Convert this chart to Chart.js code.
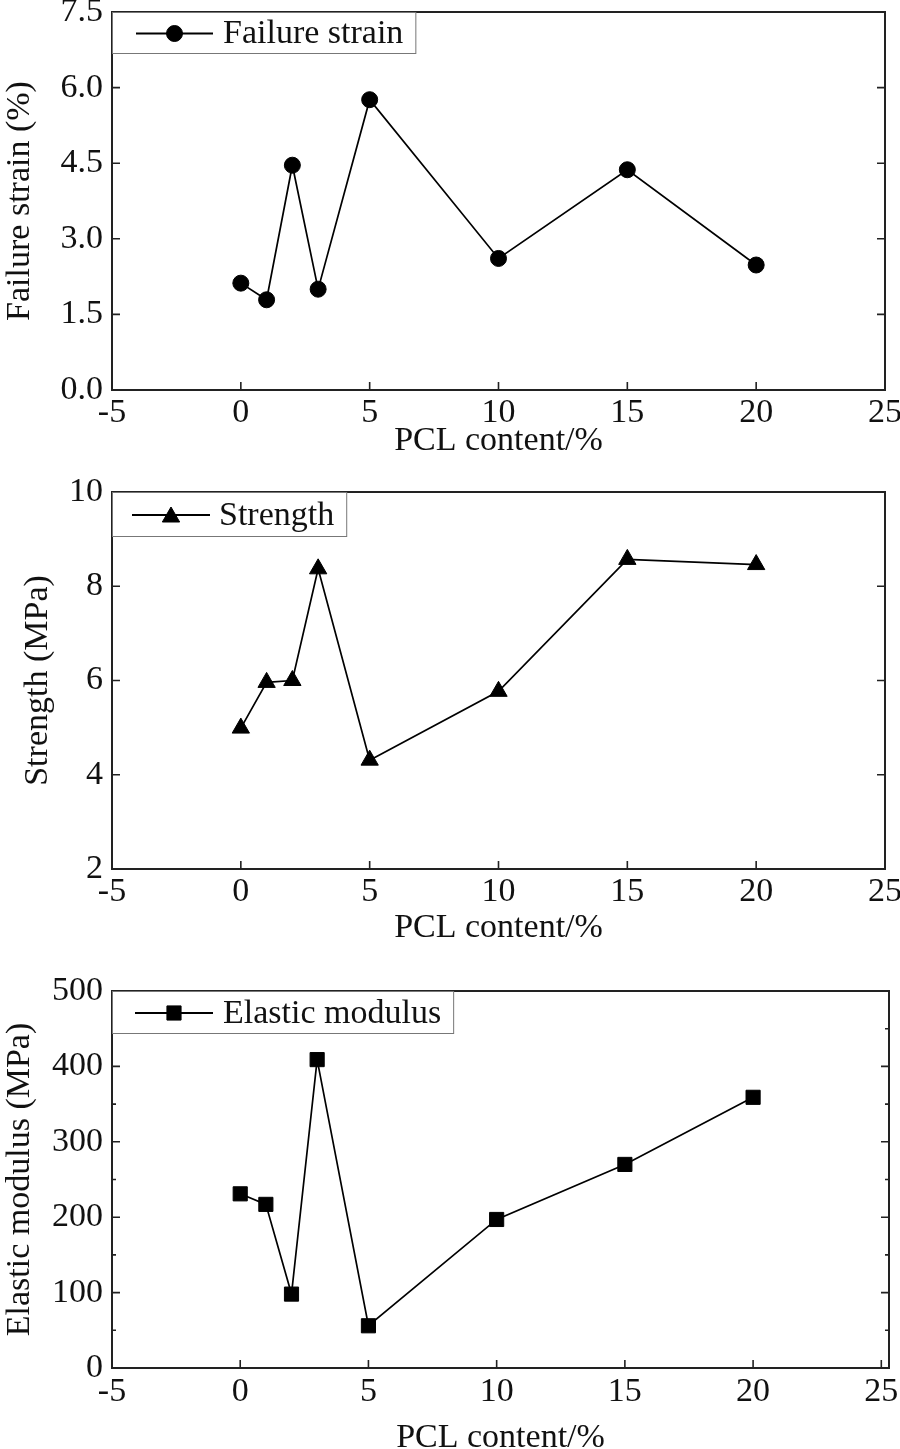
<!DOCTYPE html>
<html><head><meta charset="utf-8">
<script src="https://cdn.jsdelivr.net/npm/chart.js@4.4.1/dist/chart.umd.min.js"></script>
<style>
html,body{margin:0;padding:0;background:#fff;width:900px;height:1449px;overflow:hidden;position:relative}
canvas{position:absolute;left:0}
</style></head><body>
<canvas id="c1" width="900" height="462" style="top:0px"></canvas>
<canvas id="c2" width="900" height="490" style="top:462px"></canvas>
<canvas id="c3" width="900" height="510" style="top:952px"></canvas>
<script>
// ---- data ----
const pclContent = [0, 1, 2, 3, 5, 10, 15, 20];
const failureStrain = [2.12, 1.79, 4.46, 2.00, 5.76, 2.61, 4.37, 2.48];
const strength = [4.99, 5.96, 6.00, 8.37, 4.31, 5.77, 8.57, 8.46];
const elasticModulus = [231, 217, 98, 409, 56, 197, 270, 359];
const xTicks = [-5, 0, 5, 10, 15, 20, 25];
const strainTicks = [0, 1.5, 3.0, 4.5, 6.0, 7.5];
const strengthTicks = [2, 4, 6, 8, 10];
const modulusTicks = [0, 100, 200, 300, 400, 500];
const modulusMinorTicks = [50, 150, 250, 350, 450];
const xTitle = 'PCL content/%';

// ---- styling helpers ----
const FONT = "'Liberation Serif','Times New Roman',serif";
const FS = 34;
const INK = '#111';

const framePlugin = {
  id: 'frame',
  afterDatasetsDraw(chart, args, opts) {
    const ctx = chart.ctx, a = chart.chartArea;
    const xs = chart.scales.x, ys = chart.scales.y;
    ctx.save();
    ctx.strokeStyle = '#222';
    ctx.lineWidth = 2;
    ctx.strokeRect(a.left, a.top, a.right - a.left, a.bottom - a.top);
    ctx.lineWidth = 1.6;
    ctx.beginPath();
    ys.ticks.forEach(t => {
      const y = ys.getPixelForValue(t.value);
      ctx.moveTo(a.left, y); ctx.lineTo(a.left + 8, y);
      ctx.moveTo(a.right, y); ctx.lineTo(a.right - 8, y);
    });
    (opts.minor || []).forEach(v => {
      const y = ys.getPixelForValue(v);
      ctx.moveTo(a.left, y); ctx.lineTo(a.left + 4, y);
      ctx.moveTo(a.right, y); ctx.lineTo(a.right - 4, y);
    });
    xs.ticks.forEach(t => {
      const x = xs.getPixelForValue(t.value);
      ctx.moveTo(x, a.bottom); ctx.lineTo(x, a.bottom - 8);
    });
    ctx.stroke();
    ctx.restore();
  }
};

const boxLegendPlugin = {
  id: 'boxLegend',
  afterDraw(chart, args, opts) {
    const ctx = chart.ctx, a = chart.chartArea;
    const ds = chart.data.datasets[0];
    ctx.save();
    ctx.font = FS + 'px ' + FONT;
    const tx = a.left + opts.textOffset;
    const w = ctx.measureText(ds.label).width;
    const right = tx + w + 12;
    const top = a.top, h = opts.height;
    ctx.fillStyle = '#fff';
    ctx.fillRect(a.left + 1, top + 1, right - a.left - 1, h - 1);
    ctx.strokeStyle = '#777';
    ctx.lineWidth = 1;
    ctx.strokeRect(a.left + 0.5, top + 0.5, right - a.left, h);
    const my = top + h / 2 + 1;
    ctx.strokeStyle = '#000';
    ctx.lineWidth = 1.8;
    ctx.beginPath();
    ctx.moveTo(a.left + opts.lineStart, my);
    ctx.lineTo(a.left + opts.lineEnd, my);
    ctx.stroke();
    ctx.fillStyle = '#000';
    ctx.strokeStyle = '#000';
    ctx.lineWidth = 1;
    Chart.helpers.drawPoint(ctx, {pointStyle: ds.pointStyle, radius: ds.pointRadius, borderWidth: 1, rotation: 0},
      a.left + (opts.lineStart + opts.lineEnd) / 2, my + (opts.markerDy || 0));
    ctx.fillStyle = INK;
    ctx.textBaseline = 'middle';
    ctx.textAlign = 'left';
    ctx.fillText(ds.label, tx, my + 1);
    ctx.restore();
  }
};

function makeChart(id, cfg) {
  const pts = pclContent.map((x, i) => ({x: x, y: cfg.values[i]}));
  return new Chart(document.getElementById(id), {
    type: 'line',
    data: {
      datasets: [{
        label: cfg.label,
        data: pts,
        borderColor: '#000',
        borderWidth: 1.7,
        backgroundColor: '#000',
        pointBackgroundColor: '#000',
        pointBorderColor: '#000',
        pointBorderWidth: 1,
        pointStyle: cfg.pointStyle,
        pointRadius: cfg.pointRadius,
        tension: 0,
        fill: false
      }]
    },
    options: {
      responsive: false,
      animation: false,
      events: [],
      layout: {padding: {top: cfg.padTop, right: cfg.padRight, left: 0, bottom: 0}},
      plugins: {
        legend: {display: false},
        tooltip: {enabled: false},
        frame: {minor: cfg.minor},
        boxLegend: cfg.legend
      },
      scales: {
        x: {
          type: 'linear',
          min: -5,
          max: cfg.xMax,
          afterBuildTicks: s => { s.ticks = xTicks.map(v => ({value: v})); },
          afterFit: s => { s.height = cfg.xHeight; s.paddingLeft = 0; s.paddingRight = 0; },
          grid: {display: false, drawTicks: false},
          border: {display: false},
          ticks: {color: INK, font: {family: FONT, size: FS}, padding: cfg.xTickPad, maxRotation: 0, autoSkip: false},
          title: {display: true, text: xTitle, color: INK, font: {family: FONT, size: FS}, padding: {top: 0, bottom: cfg.xTitlePad}}
        },
        y: {
          type: 'linear',
          min: cfg.yTicks[0],
          max: cfg.yTicks[cfg.yTicks.length - 1],
          afterBuildTicks: s => { s.ticks = cfg.yTicks.map(v => ({value: v})); },
          afterFit: s => { s.width = 112; s.paddingTop = 0; s.paddingBottom = 0; },
          grid: {display: false, drawTicks: false},
          border: {display: false},
          ticks: {color: INK, font: {family: FONT, size: FS}, padding: 9,
                  callback: v => cfg.fmt(v)},
          title: {display: true, text: cfg.yTitle, color: INK, font: {family: FONT, size: FS}, padding: {top: cfg.yTitlePad, bottom: 0}}
        }
      }
    },
    plugins: [framePlugin, boxLegendPlugin]
  });
}

makeChart('c1', {
  label: 'Failure strain', values: failureStrain, pointStyle: 'circle', pointRadius: 8,
  yTicks: strainTicks, fmt: v => v.toFixed(1), yTitle: 'Failure strain (%)',
  padTop: 12, padRight: 15, xMax: 25, xHeight: 72, xTickPad: 3, xTitlePad: 1, yTitlePad: 0,
  legend: {height: 41, lineStart: 24, lineEnd: 101, textOffset: 111}
});
makeChart('c2', {
  label: 'Strength', values: strength, pointStyle: 'triangle', pointRadius: 10,
  yTicks: strengthTicks, fmt: v => String(v), yTitle: 'Strength (MPa)',
  padTop: 30, padRight: 15, xMax: 25, xHeight: 83, xTickPad: 3, xTitlePad: 4, yTitlePad: 18,
  legend: {height: 44, lineStart: 20, lineEnd: 98, textOffset: 107, markerDy: 2}
});
makeChart('c3', {
  label: 'Elastic modulus', values: elasticModulus, pointStyle: 'rect', pointRadius: 10,
  yTicks: modulusTicks, minor: modulusMinorTicks, fmt: v => String(v), yTitle: 'Elastic modulus (MPa)',
  padTop: 39, padRight: 7, xMax: 25.3, xHeight: 94, xTickPad: 4, xTitlePad: 4, yTitlePad: 0,
  legend: {height: 42, lineStart: 23, lineEnd: 101, textOffset: 111}
});
</script>
</body></html>
